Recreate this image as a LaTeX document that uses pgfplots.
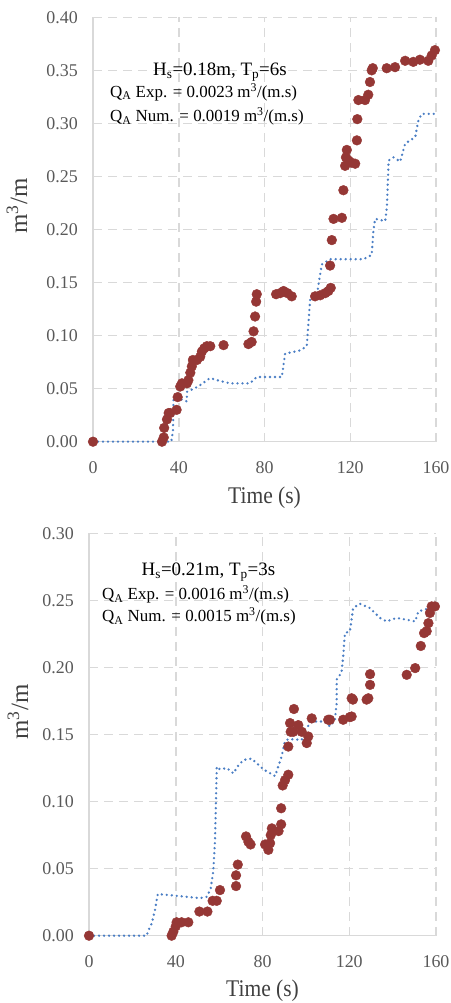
\documentclass[border=0pt]{standalone}
\usepackage{pgfplots}
\pgfplotsset{compat=1.18}
\usepackage{fontspec}
\setmainfont{Liberation Serif}
\definecolor{expred}{HTML}{953735}
\definecolor{numblue}{HTML}{4A7EC4}
\definecolor{gridc}{HTML}{D9D9D9}
\definecolor{tickc}{HTML}{595959}
\definecolor{labc}{HTML}{404040}
\pgfplotsset{myax/.style={
  scale only axis, xmin=0, xmax=160, xtick={0,40,80,120,160},
  axis x line*=bottom, axis y line*=left,
  axis line style={draw=gridc, line width=1.5bp, -},
  grid=major,
  major grid style={draw=gridc, line width=1.5bp, dash pattern=on 9bp off 6bp},
  major tick length=0pt, tick style={draw=none},
  ticklabel style={font=\fontsize{18}{18}\selectfont, text=tickc, inner sep=0pt},
  xticklabel style={anchor=north, yshift=-20bp},
  yticklabel style={anchor=east, xshift=-15bp, /pgf/number format/.cd, fixed, fixed zerofill, precision=2},
  /pgf/number format/assume math mode=true,
  clip=false}}
\begin{document}
\begin{tikzpicture}
\useasboundingbox (0,0) rectangle (451bp,1003bp);
% ---------------- top panel ----------------
\begin{axis}[myax, at={(93bp,561.3bp)}, anchor=south west, width=343bp, height=424.4bp,
  ymin=0, ymax=0.40, ytick={0,0.05,0.10,0.15,0.20,0.25,0.30,0.35,0.40}]
\addplot[only marks, mark=*, mark size=4.9pt, mark options={fill=expred, draw=expred}] table {
x y
0 0
32.2 0.000
33.0 0.004
33.2 0.013
34.5 0.021
35.3 0.027
36.0 0.027
39.0 0.030
39.5 0.042
40.7 0.052
41.5 0.055
43.8 0.055
44.5 0.058
45.4 0.065
46.1 0.071
46.6 0.077
48.5 0.077
50.0 0.080
50.8 0.085
51.9 0.088
53.1 0.090
54.7 0.090
60.9 0.091
72.5 0.092
74.0 0.094
74.9 0.104
75.6 0.118
76.1 0.132
76.4 0.139
85.4 0.139
87.3 0.140
88.9 0.142
90.7 0.140
92.7 0.137
103.6 0.137
106.0 0.138
108.3 0.140
109.8 0.142
110.9 0.145
110.6 0.166
111.4 0.190
112.2 0.210
116.1 0.211
116.8 0.237
117.6 0.260
118.0 0.268
118.4 0.275
119.2 0.265
120.5 0.263
122.3 0.262
123.1 0.284
123.3 0.304
123.8 0.322
126.9 0.322
128.4 0.327
129.2 0.339
130.0 0.350
130.5 0.352
137.0 0.352
140.9 0.353
145.6 0.359
149.4 0.358
152.5 0.360
156.4 0.359
158.0 0.364
159.5 0.369
};
\addplot[numblue, line width=2.6bp, dash pattern=on 0pt off 5bp, line cap=round] table {
x y
0 0
36.5 0
37.3 0.010
37.5 0.035
37.6 0.041
41.0 0.040
43.7 0.038
43.9 0.047
49.1 0.052
54.6 0.060
57.8 0.058
63.9 0.055
73.2 0.055
76.4 0.061
88.1 0.061
89.6 0.083
96.6 0.086
99.7 0.090
101.3 0.134
104.4 0.138
106.7 0.167
110.6 0.172
126.1 0.172
130.0 0.176
130.8 0.199
131.6 0.210
136.3 0.208
137.1 0.221
137.9 0.265
140.2 0.268
143.3 0.264
145.6 0.281
150.3 0.287
151.8 0.303
153.4 0.309
160 0.309
};
\end{axis}
% ---------------- bottom panel ----------------
\begin{axis}[myax, at={(89bp,67.3bp)}, anchor=south west, width=347bp, height=402.4bp,
  ymin=0, ymax=0.30, ytick={0,0.05,0.10,0.15,0.20,0.25,0.30}]
\addplot[only marks, mark=*, mark size=4.9pt, mark options={fill=expred, draw=expred}] table {
x y
0 0
38.1 0.000
38.9 0.003
40.0 0.007
40.4 0.010
42.7 0.010
45.8 0.010
50.9 0.018
54.6 0.018
57.0 0.026
58.9 0.026
60.4 0.034
67.8 0.037
67.8 0.045
68.6 0.053
72.4 0.074
73.5 0.070
74.5 0.068
81.2 0.068
82.7 0.064
83.5 0.069
83.8 0.075
84.3 0.080
87.4 0.078
88.6 0.083
88.6 0.095
89.3 0.112
90.4 0.116
91.9 0.120
91.9 0.141
92.7 0.1585
93.0 0.152
94.2 0.152
94.5 0.169
96.5 0.157
98.1 0.152
100.4 0.1436
101.1 0.1485
102.7 0.162
110.3 0.161
111.1 0.161
117.2 0.161
120.3 0.163
121.1 0.1634
121.1 0.177
121.7 0.176
128.0 0.176
128.8 0.177
129.6 0.187
129.6 0.195
146.5 0.1945
150.4 0.1995
153.0 0.216
154.5 0.2256
155.7 0.227
156.5 0.233
157.2 0.2406
158.0 0.2455
159.5 0.2455
};
\addplot[numblue, line width=2.6bp, dash pattern=on 0pt off 5bp, line cap=round] table {
x y
0 0
26.6 0
27.4 0.004
28.9 0.009
30.4 0.019
31.7 0.031
38.9 0.030
45.0 0.029
51.2 0.028
54.3 0.029
56.1 0.035
57.3 0.048
58.1 0.071
58.6 0.104
58.9 0.126
60.4 0.124
63.5 0.125
66.6 0.121
68.4 0.126
71.2 0.131
75.0 0.132
80.4 0.124
85.8 0.119
88.8 0.1336
90.3 0.1448
91.9 0.1466
98.1 0.146
99.6 0.1535
102.7 0.1597
108.8 0.1597
111.1 0.156
113.4 0.161
114.2 0.1734
114.2 0.191
116.4 0.196
117.2 0.208
118.0 0.2256
120.3 0.227
121.8 0.2443
124.9 0.2475
129.5 0.2443
134.2 0.2369
137.2 0.2343
141.8 0.2369
146.5 0.2356
150.4 0.2343
151.9 0.2418
155.7 0.2436
159.5 0.2436
};
\end{axis}
% ---------------- labels ----------------
\node[anchor=base, text=labc, font=\fontsize{24}{24}\selectfont, xscale=0.9] at (264.5bp,499bp) {Time (s)};
\node[anchor=base, text=labc, font=\fontsize{24}{24}\selectfont, xscale=0.9] at (262.5bp,6.3bp) {Time (s)};
\node[rotate=90, text=labc, font=\fontsize{25}{25}\selectfont] at (17bp,797bp) {m\textsuperscript{3}/m};
\node[rotate=90, text=labc, font=\fontsize{25}{25}\selectfont] at (18bp,291bp) {m\textsuperscript{3}/m};
% annotations top
\node[anchor=base, font=\fontsize{19}{19}\selectfont, inner sep=0pt] at (220bp,927bp) {H\textsubscript{s}=0.18m, T\textsubscript{p}=6s};
\node[anchor=base west, font=\fontsize{17}{17}\selectfont, inner sep=0pt] at (110bp,905.7bp) {Q\textsubscript{A} Exp. = 0.0023 m\textsuperscript{3}/(m.s)};
\node[anchor=base west, font=\fontsize{17}{17}\selectfont, inner sep=0pt] at (110bp,881.3bp) {Q\textsubscript{A} Num. = 0.0019 m\textsuperscript{3}/(m.s)};
% annotations bottom
\node[anchor=base, font=\fontsize{19}{19}\selectfont, inner sep=0pt] at (208.5bp,427bp) {H\textsubscript{s}=0.21m, T\textsubscript{p}=3s};
\node[anchor=base west, font=\fontsize{17}{17}\selectfont, inner sep=0pt] at (102bp,403bp) {Q\textsubscript{A} Exp. = 0.0016 m\textsuperscript{3}/(m.s)};
\node[anchor=base west, font=\fontsize{17}{17}\selectfont, inner sep=0pt] at (102bp,381.3bp) {Q\textsubscript{A} Num. = 0.0015 m\textsuperscript{3}/(m.s)};
\end{tikzpicture}
\end{document}
